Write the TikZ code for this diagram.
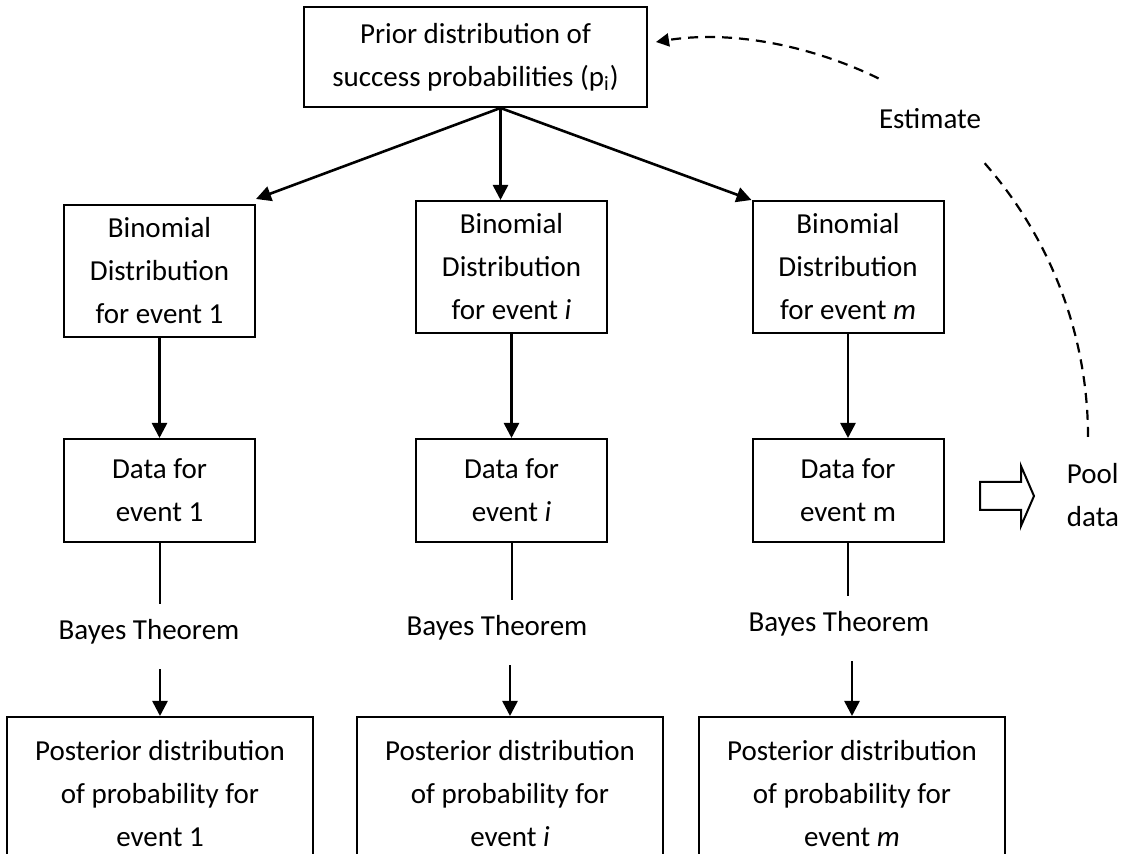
\documentclass[tikz,border=0pt]{standalone}
\usepackage{fontspec}
\setmainfont{Carlito}
\usetikzlibrary{arrows.meta,calc}
\newcommand\diagfont{\fontsize{14.5pt}{21.5pt}\selectfont}
\begin{document}
\begin{tikzpicture}[x=0.5pt, y=-0.5pt,
  box/.style={draw, line width=1pt, align=center, inner sep=0pt, font=\diagfont},
  bbox/.style={box, minimum width=95.5pt, minimum height=66pt},
  dbox/.style={box, minimum width=95.5pt, minimum height=51.5pt},
  pbox/.style={box, minimum width=153pt, minimum height=77pt},
  bayes/.style={font=\diagfont, text height=10pt, text depth=4pt, inner xsep=0pt, inner ysep=8pt},
  arr/.style={line width=1.3pt, -{Triangle[length=7.5pt,width=7.5pt]}},
  ln/.style={line width=1pt},
  dsh/.style={line width=1.1pt, dash pattern=on 5pt off 3.5pt}]
\useasboundingbox (0,0) rectangle (1126,854);
\clip (0,0) rectangle (1126,854);

% nodes
\node[box, minimum width=171.5pt, minimum height=50pt] (top) at (475.5,57)
  {Prior distribution of\\success probabilities (p\textsubscript{i})};
\node[bbox] (B1) at (159.5,271) {Binomial\\Distribution\\for event 1};
\node[bbox] (Bi) at (511.5,267) {Binomial\\Distribution\\for event \textit{i}};
\node[bbox] (Bm) at (848,267) {Binomial\\Distribution\\for event \textit{m}};
\node[dbox] (D1) at (159.5,490.5) {Data for\\event 1};
\node[dbox] (Di) at (511.5,490.5) {Data for\\event \textit{i}};
\node[dbox] (Dm) at (848,490.5) {Data for\\event m};
\node[bayes] (bayes1) at (149,634) {Bayes Theorem};
\node[bayes] (bayesi) at (497,630) {Bayes Theorem};
\node[bayes] (bayesm) at (839,626) {Bayes Theorem};
\node[pbox] (P1) at (160,794) {Posterior distribution\\of probability for\\event 1};
\node[pbox] (Pi) at (510,794) {Posterior distribution\\of probability for\\event \textit{i}};
\node[pbox] (Pm) at (852,794) {Posterior distribution\\of probability for\\event \textit{m}};
\node[font=\diagfont, align=left, inner sep=0pt] (pool) at (1093,495) {Pool\\data};
\node[font=\diagfont, inner xsep=0pt, inner ysep=15pt] (est) at (930,119) {Estimate};

% fork from prior
\coordinate (fork) at ([xshift=12.5pt]top.south);
\draw[arr] (fork) -- ([yshift=2.5pt]B1.north east);
\draw[arr] (fork) -- (fork |- Bi.north);
\draw[arr] (fork) -- (Bm.north west);

% binomial -> data
\draw[arr] (B1) -- (D1);
\draw[arr] (Bi) -- (Di);
\draw[arr] (Bm) -- (Dm);

% data -> Bayes
\draw[ln] (D1.south) -- (D1.south |- bayes1.north);
\draw[ln] (Di.south) -- (Di.south |- bayesi.north);
\draw[ln] (Dm.south) -- (Dm.south |- bayesm.north);

% Bayes -> posterior
\draw[arr, shorten <=2.5pt] (P1.north |- bayes1.south) -- (P1.north);
\draw[arr, shorten <=2.5pt] (Pi.north |- bayesi.south) -- (Pi.north);
\draw[arr, shorten <=2.5pt] (Pm.north |- bayesm.south) -- (Pm.north);

% block arrow
\draw[line width=1pt, line join=miter] (980,482) -- (1021,482) -- (1021,466) -- (1034,496)
  -- (1021,526) -- (1021,510) -- (980,510) -- cycle;

% dashed estimate feedback
\draw[dsh] ([xshift=-2.5pt,yshift=13pt]pool.north) .. controls (1088,334.3) and (1049.7,235.6) .. (est.south east);
\draw[dsh, -{Triangle[length=6.5pt,width=6.5pt]}] (est.north west) .. controls (810,45) and (730.8,30.1) .. ([shift={(8,-15)}]top.east);
\end{tikzpicture}
\end{document}
